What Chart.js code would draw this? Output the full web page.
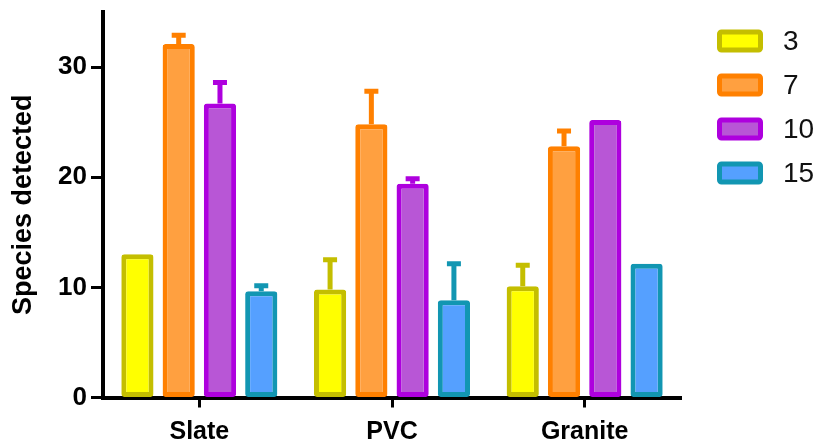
<!DOCTYPE html>
<html>
<head>
<meta charset="utf-8">
<script src="https://cdn.jsdelivr.net/npm/chart.js@4"></script>
<style>
  html, body { margin: 0; padding: 0; background: #fff; }
  #wrap { width: 819px; height: 446px; }
</style>
</head>
<body>
<div id="wrap"><canvas id="c" width="819" height="446"></canvas></div>
<script>
// Substrate categories and sampling groups
const categories = ['Slate', 'PVC', 'Granite'];
const groups = ['3', '7', '10', '15'];

// Mean species detected per group
const means3  = [13.0, 9.8, 10.1];
const means7  = [32.1, 24.8, 22.8];
const means10 = [26.7, 19.4, 25.2];
const means15 = [9.65, 8.84, 12.15];

// Upper error (SEM) per group
const err3  = [0, 2.7, 1.9];
const err7  = [0.8, 3.0, 1.4];
const err10 = [1.9, 0.45, 0];
const err15 = [0.5, 3.3, 0];

const yTicks = [0, 10, 20, 30];

const fills   = ['#FFFF00', '#FFA040', '#B856D6', '#55A0FF'];
const borders = ['#C4BE00', '#FF8000', '#AE00DE', '#1296B2'];

const seriesMeans = [means3, means7, means10, means15];
const seriesErrs = [err3, err7, err10, err15];

const datasets = groups.map((g, i) => ({
  label: g,
  data: seriesMeans[i],
  errors: seriesErrs[i],
  backgroundColor: fills[i],
  borderColor: borders[i],
  borderWidth: 5,
  borderRadius: 3,
  borderSkipped: false,
  barPercentage: 0.78,
  categoryPercentage: 0.857
}));

// Upward-only error bars with a small cap
const errorBars = {
  id: 'errorBars',
  afterDatasetsDraw(chart) {
    const ctx = chart.ctx;
    const y = chart.scales.y;
    chart.data.datasets.forEach((ds, di) => {
      const meta = chart.getDatasetMeta(di);
      meta.data.forEach((bar, i) => {
        const e = ds.errors[i];
        if (!e) return;
        const top = y.getPixelForValue(ds.data[i] + e);
        const base = y.getPixelForValue(ds.data[i]);
        ctx.save();
        ctx.strokeStyle = ds.borderColor;
        ctx.lineWidth = 5;
        ctx.lineCap = 'butt';
        ctx.beginPath();
        ctx.moveTo(bar.x, base);
        ctx.lineTo(bar.x, top);
        ctx.moveTo(bar.x - 7, top);
        ctx.lineTo(bar.x + 7, top);
        ctx.stroke();
        ctx.restore();
      });
    });
  }
};

// Legend on the right: framed swatches with the group names
const sideLegend = {
  id: 'sideLegend',
  afterDraw(chart) {
    const ctx = chart.ctx;
    const x0 = chart.chartArea.right + 36;
    const y0 = 41;
    const step = 44;
    const w = 46, h = 23, bw = 5;
    chart.data.datasets.forEach((ds, i) => {
      const cy = y0 + i * step;
      ctx.save();
      ctx.fillStyle = ds.backgroundColor;
      ctx.strokeStyle = ds.borderColor;
      ctx.lineWidth = bw;
      ctx.beginPath();
      ctx.roundRect(x0 + bw / 2, cy - h / 2 + bw / 2, w - bw, h - bw, 2);
      ctx.fill();
      ctx.stroke();
      ctx.fillStyle = '#111';
      ctx.font = '28px "Liberation Sans", sans-serif';
      ctx.textBaseline = 'middle';
      ctx.textAlign = 'left';
      ctx.fillText(ds.label, x0 + 66, cy + 1);
      ctx.restore();
    });
  }
};

new Chart(document.getElementById('c'), {
  type: 'bar',
  data: { labels: categories, datasets },
  options: {
    responsive: false,
    animation: false,
    layout: { padding: { left: 0, right: 138, top: 12, bottom: 0 } },
    plugins: { legend: { display: false }, tooltip: { enabled: false } },
    scales: {
      x: {
        offset: true,
        grid: {
          offset: false,
          drawOnChartArea: false,
          drawTicks: true,
          tickLength: 10,
          tickWidth: 3,
          tickColor: '#000'
        },
        border: { display: true, color: '#000', width: 4 },
        ticks: {
          color: '#000',
          padding: 10,
          font: { family: '"Liberation Sans", Arial, sans-serif', size: 25, weight: 'bold' }
        },
        afterFit(axis) {
          axis.height = 48.5;
          axis.paddingLeft = 0;
          axis.paddingRight = 0;
        }
      },
      y: {
        min: 0,
        max: 35,
        afterBuildTicks(axis) { axis.ticks = yTicks.map(v => ({ value: v })); },
        grid: {
          drawOnChartArea: false,
          drawTicks: true,
          tickLength: 12,
          tickWidth: 3,
          tickColor: '#000'
        },
        border: { display: true, color: '#000', width: 4 },
        ticks: {
          color: '#000',
          padding: 4,
          font: { family: '"Liberation Sans", Arial, sans-serif', size: 26, weight: 'bold' }
        },
        title: {
          display: true,
          text: 'Species detected',
          color: '#000',
          padding: { top: 7, bottom: 0 },
          font: { family: '"Liberation Sans", Arial, sans-serif', size: 27, weight: 'bold' }
        },
        afterFit(axis) {
          axis.width = 103;
          axis.paddingTop = 0;
          axis.paddingBottom = 0;
        }
      }
    }
  },
  plugins: [errorBars, sideLegend]
});
</script>
</body>
</html>
